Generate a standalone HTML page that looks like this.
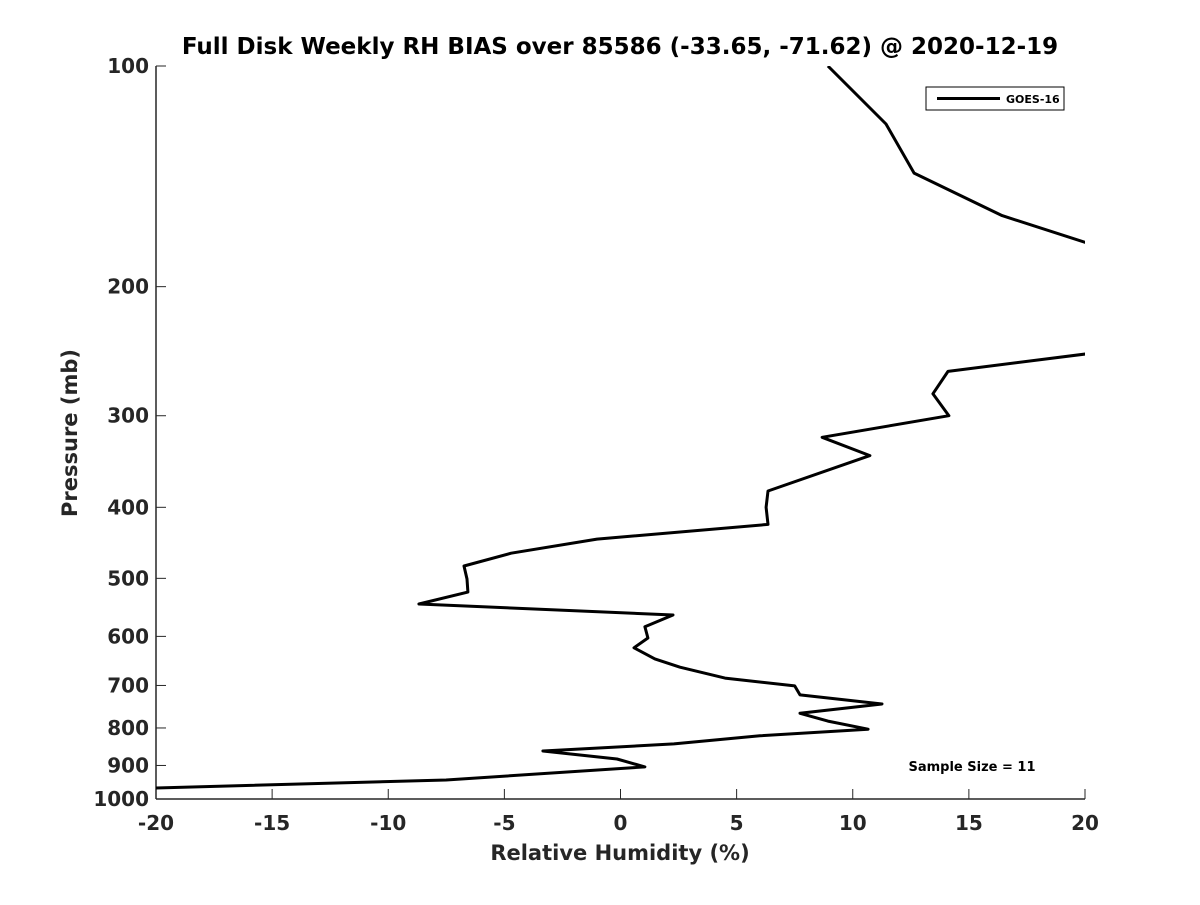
<!DOCTYPE html>
<html><head><meta charset="utf-8"><style>
body{margin:0;background:#fff;}
svg text{font-family:"DejaVu Sans","Liberation Sans",sans-serif;font-weight:bold;fill:#262626;}
</style></head><body>
<svg width="1200" height="900">
<defs><clipPath id="pc"><rect x="156" y="66" width="929" height="733"/></clipPath></defs>
<text x="620" y="54" text-anchor="middle" font-size="23" fill="#000" style="fill:#000">Full Disk Weekly RH BIAS over 85586 (-33.65, -71.62) @ 2020-12-19</text>
<g id="axes"></g>
<path id="series" fill="none" stroke="#000" stroke-width="3" stroke-linejoin="round" clip-path="url(#pc)"/>
<g>
<rect x="926" y="87" width="138" height="23" fill="#fff" stroke="#000" stroke-width="1"/>
<line x1="937" y1="98.5" x2="1000" y2="98.5" stroke="#000" stroke-width="3"/>
<text x="1006" y="103" font-size="11" style="fill:#000">GOES-16</text>
</g>
<text x="972" y="771" text-anchor="middle" font-size="13" style="fill:#000">Sample Size = 11</text>
<text x="620" y="860" text-anchor="middle" font-size="21">Relative Humidity (%)</text>
<text transform="translate(77,433) rotate(-90)" text-anchor="middle" font-size="21">Pressure (mb)</text>
</svg>
<script>
const rh=[8.93,11.43,12.64,16.43,20.5,20.5,14.1,13.45,14.14,8.68,10.74,6.35,6.27,6.35,-1.01,-4.71,-6.74,-6.61,-6.57,-8.68,2.26,1.05,1.18,0.58,1.48,2.56,4.5,7.5,7.73,11.26,7.73,8.93,10.66,6.0,2.3,-3.34,-0.15,1.05,-7.51,-20,-21];
const pres=[100,120,140,160,176,246,261,280,300,321,340,380,400,422,442,462,481,501,522,542,561,582,603,622,644,661,684,701,721,742,764,783,803,820,841,860,882,904,942,966,968];
const xTicks=[-20,-15,-10,-5,0,5,10,15,20];
const yTicks=[100,200,300,400,500,600,700,800,900,1000];
const X0=156,X1=1085,Y0=66,Y1=799;
const xs=v=>X0+(v+20)/40*(X1-X0);
const ys=p=>Y0+Math.log10(p/100)*(Y1-Y0);
const ns="http://www.w3.org/2000/svg";
const ax=document.getElementById('axes');
function mk(t,a){const e=document.createElementNS(ns,t);for(const k in a)e.setAttribute(k,a[k]);ax.appendChild(e);return e;}
let e=mk('line',{x1:X0,y1:Y0,x2:X0,y2:Y1,stroke:'#262626','stroke-width':1.5});


e=mk('line',{x1:X0,y1:Y1,x2:X1,y2:Y1,stroke:'#262626','stroke-width':1.5});


xTicks.forEach(v=>{const x=xs(v);
mk('line',{x1:x,y1:Y1,x2:x,y2:Y1-10,stroke:'#262626','stroke-width':1});
const t=mk('text',{x:x,y:Y1+31,'text-anchor':'middle','font-size':20});t.textContent=v;

});
yTicks.forEach(p=>{const y=ys(p);
mk('line',{x1:X0,y1:y,x2:X0+10,y2:y,stroke:'#262626','stroke-width':1});
const t=mk('text',{x:X0-7,y:y+7,'text-anchor':'end','font-size':20});t.textContent=p;

});
document.getElementById('series').setAttribute('d',rh.map((v,i)=>(i?'L':'M')+xs(v).toFixed(1)+' '+ys(pres[i]).toFixed(1)).join(' '));
</script>
</body></html>
